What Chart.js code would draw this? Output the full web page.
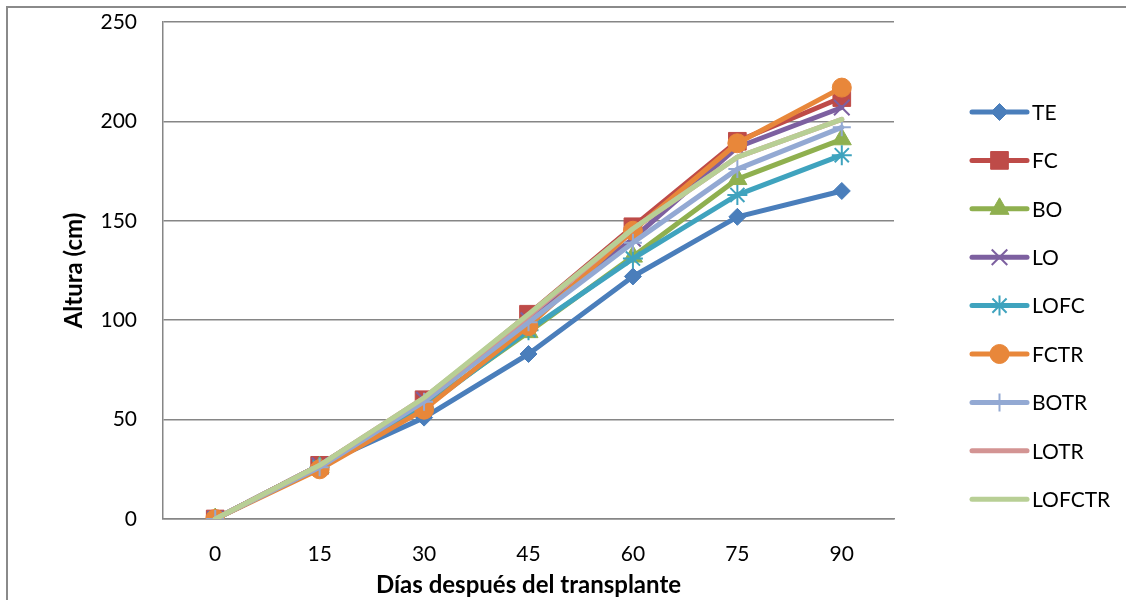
<!DOCTYPE html>
<html>
<head>
<meta charset="utf-8">
<title>Altura de plantas</title>
<script src="https://cdn.jsdelivr.net/npm/chart.js@4.4.1/dist/chart.umd.min.js"></script>
<style>
  html, body { margin: 0; padding: 0; background: #ffffff; }
  #wrap { width: 1126px; height: 600px; position: relative; }
</style>
</head>
<body>
<div id="wrap"><canvas id="chart" width="1126" height="600"></canvas></div>
<script>
// Days after transplant (x categories)
const days = ['0', '15', '30', '45', '60', '75', '90'];

// Plant height (cm) per treatment
const TE     = [0, 27, 51, 83, 122, 152, 165];
const FC     = [0, 27, 60, 103, 147, 190, 212];
const BO     = [0, 26, 57, 94, 132, 171, 191];
const LO     = [0, 27, 60, 100, 141, 187, 207];
const LOFC   = [0, 26, 56, 95, 131, 163, 183];
const FCTR   = [0, 25, 55, 97, 145, 189, 217];
const BOTR   = [0, 26, 59, 99, 139, 176, 197];
const LOTR   = [0, 27, 61, 102, 146, 182, 201];
const LOFCTR = [0, 27, 61, 103, 146, 182, 201];

// Y axis range / ticks
const yMin = 0, yMax = 250, yStep = 50;

const FONT = 'Lato, "Open Sans", "DejaVu Sans", sans-serif';
const GRID = '#868686';

// Series appearance: colour, marker shape, marker radius, marker border width
const series = [
  { label: 'TE',     data: TE,     color: '#4A7EBB', style: 'rectRot',  r: 8.5, bw: 1 },
  { label: 'FC',     data: FC,     color: '#BE4B48', style: 'rect',     r: 12.5, bw: 1 },
  { label: 'BO',     data: BO,     color: '#8FB04F', style: 'triangle', r: 11,  bw: 1 },
  { label: 'LO',     data: LO,     color: '#7D60A0', style: 'crossRot', r: 11,  bw: 2 },
  { label: 'LOFC',   data: LOFC,   color: '#3FA3BE', style: 'star',     r: 10,  bw: 2 },
  { label: 'FCTR',   data: FCTR,   color: '#E8873A', style: 'circle',   r: 9.5, bw: 1 },
  { label: 'BOTR',   data: BOTR,   color: '#93A9D3', style: 'cross',    r: 9,   bw: 2 },
  { label: 'LOTR',   data: LOTR,   color: '#D39493', style: false,      r: 0,   bw: 0 },
  { label: 'LOFCTR', data: LOFCTR, color: '#B8CF95', style: false,      r: 0,   bw: 0 }
];

const datasets = series.map((s, i) => ({
  label: s.label,
  data: s.data,
  borderColor: s.color,
  backgroundColor: s.color,
  borderWidth: 5,
  borderJoinStyle: 'round',
  borderCapStyle: 'round',
  tension: 0,
  pointStyle: s.style,
  pointRadius: s.r,
  pointHoverRadius: s.r,
  pointBorderWidth: s.bw,
  pointBorderColor: s.color,
  pointBackgroundColor: s.color,
  // later series are painted above earlier ones
  order: series.length - i
}));

// Outer chart frame (top and left edges)
const framePlugin = {
  id: 'frame',
  beforeDraw(chart) {
    const ctx = chart.ctx;
    ctx.save();
    ctx.fillStyle = '#ffffff';
    ctx.fillRect(0, 0, chart.width, chart.height);
    ctx.strokeStyle = '#8a8a8a';
    ctx.lineWidth = 2;
    ctx.beginPath();
    ctx.moveTo(7, chart.height + 5);
    ctx.lineTo(7, 7);
    ctx.lineTo(chart.width + 5, 7);
    ctx.stroke();
    ctx.restore();
  }
};

// Legend with a line sample and the series marker on it
function drawMarker(ctx, s, x, y) {
  if (!s.style) return;
  const opts = { pointStyle: s.style, radius: s.r, rotation: 0, borderWidth: s.bw };
  ctx.fillStyle = s.color;
  ctx.strokeStyle = s.color;
  ctx.lineWidth = s.bw;
  Chart.helpers.drawPoint(ctx, opts, x, y);
}

const legendPlugin = {
  id: 'sideLegend',
  afterDraw(chart) {
    const ctx = chart.ctx;
    const x0 = 972, x1 = 1027, tx = 1032;
    const yTop = 112, step = 48.4;
    ctx.save();
    series.forEach((s, i) => {
      const y = yTop + i * step;
      ctx.strokeStyle = s.color;
      ctx.lineWidth = 5;
      ctx.lineCap = 'round';
      ctx.beginPath();
      ctx.moveTo(x0, y);
      ctx.lineTo(x1, y);
      ctx.stroke();
      ctx.lineCap = 'butt';
      drawMarker(ctx, s, (x0 + x1) / 2, y);
      ctx.fillStyle = '#000000';
      ctx.font = '21px ' + FONT;
      ctx.textAlign = 'left';
      ctx.textBaseline = 'middle';
      ctx.fillText(s.label, tx, y + 1);
    });
    ctx.restore();
  }
};

new Chart(document.getElementById('chart'), {
  type: 'line',
  data: { labels: days, datasets },
  plugins: [framePlugin, legendPlugin],
  options: {
    responsive: false,
    animation: false,
    devicePixelRatio: 1,
    layout: { autoPadding: false, padding: { left: 0, top: 22, right: 232, bottom: 0 } },
    plugins: {
      legend: { display: false },
      tooltip: { enabled: false },
      title: { display: false }
    },
    scales: {
      x: {
        type: 'category',
        offset: true,
        grid: { display: true, drawOnChartArea: false, drawTicks: false },
        border: { display: true, color: GRID, width: 1.5 },
        ticks: { color: '#000000', font: { family: FONT, size: 21 }, padding: 23, maxRotation: 0 },
        title: {
          display: true,
          text: 'Días después del transplante',
          color: '#000000',
          font: { family: FONT, size: 24, weight: 'bold' },
          padding: { top: 0, bottom: 0 }
        },
        afterFit(scale) { scale.height = 81; }
      },
      y: {
        min: yMin,
        max: yMax,
        grid: { color: GRID, lineWidth: 1.5, drawTicks: false },
        border: { display: true, color: GRID, width: 1.5 },
        ticks: { stepSize: yStep, color: '#000000', font: { family: FONT, size: 21 }, padding: 26 },
        title: {
          display: true,
          text: 'Altura (cm)',
          color: '#000000',
          font: { family: FONT, size: 24, weight: 'bold' },
          padding: { top: 60, bottom: 0 }
        },
        afterFit(scale) { scale.width = 163; scale.paddingTop = 0; scale.paddingBottom = 0; }
      }
    }
  }
});
</script>
</body>
</html>
